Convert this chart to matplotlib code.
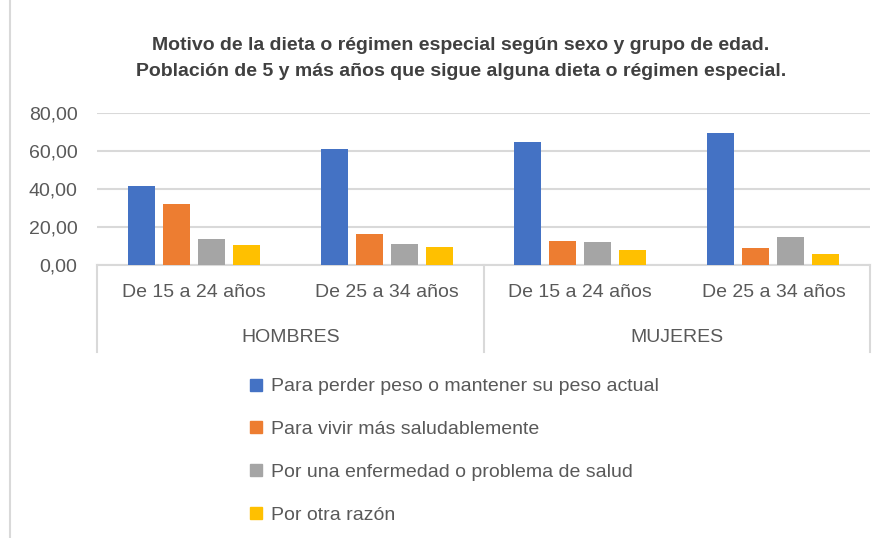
import numpy as np
import matplotlib
matplotlib.use("Agg")
import matplotlib.pyplot as plt
from matplotlib.lines import Line2D

plt.rcParams['font.family'] = ['Liberation Sans', 'DejaVu Sans']

# data
grupos = ["HOMBRES", "MUJERES"]
edades = ["De 15 a 24 años", "De 25 a 34 años", "De 15 a 24 años", "De 25 a 34 años"]
series = [
    "Para perder peso o mantener su peso actual",
    "Para vivir más saludablemente",
    "Por una enfermedad o problema de salud",
    "Por otra razón",
]
perder_peso = [41.8, 61.2, 65.0, 69.5]
saludable = [32.0, 16.4, 12.7, 8.8]
enfermedad = [13.7, 11.2, 12.0, 14.6]
otra = [10.5, 9.5, 8.1, 5.8]
colores = ["#4472C4", "#ED7D31", "#A5A5A5", "#FFC000"]

valores = [perder_peso, saludable, enfermedad, otra]
txt = "#595959"
grid = "#D9D9D9"

fig = plt.figure(figsize=(8.83, 5.38), dpi=100)
ax = fig.add_axes([97 / 883, 1 - 265 / 538, (870 - 97) / 883, (265 - 113) / 538])

x = np.arange(len(edades))
step = 0.181
width = 0.14
for i, (vals, c) in enumerate(zip(valores, colores)):
    ax.bar(x + (i - 1.5) * step, vals, width, color=c, label=series[i], zorder=3)

ax.set_xlim(-0.5, len(edades) - 0.5)
ax.set_ylim(0, 80)
ax.set_yticks(np.arange(0, 81, 20))
ax.set_yticklabels([f"{v:.2f}".replace(".", ",") for v in np.arange(0, 81, 20)])
ax.yaxis.grid(True, color=grid, linewidth=1.5, zorder=0)
ax.set_xticks(x)
ax.set_xticklabels(edades)
ax.tick_params(axis='x', length=0, pad=14, labelsize=14, labelcolor=txt)
ax.tick_params(axis='y', length=0, pad=14, labelsize=14, labelcolor=txt)
for s in ['top', 'right', 'left']:
    ax.spines[s].set_visible(False)
ax.spines['bottom'].set_color(grid)
ax.spines['bottom'].set_linewidth(1.5)

# group separators and group labels
for b in [-0.5, 1.5, 3.5]:
    ax.axvline(b, ymin=-0.57, ymax=0, color=grid, linewidth=1.5, clip_on=False)
for k, g in enumerate(grupos):
    ax.text(2 * k + 0.5, -0.48, g, transform=ax.get_xaxis_transform(),
            ha='center', va='center', fontsize=14, color=txt)

fig.text(461 / 883, 1 - 45 / 538,
         "Motivo de la dieta o régimen especial según sexo y grupo de edad.",
         ha='center', va='center', fontsize=14, fontweight='bold', color="#404040")
fig.text(461 / 883, 1 - 72 / 538,
         "Población de 5 y más años que sigue alguna dieta o régimen especial.",
         ha='center', va='center', fontsize=14, fontweight='bold', color="#404040")

handles = [Line2D([], [], marker='s', linestyle='none', markersize=8, color=c) for c in colores]
leg = fig.legend(handles, series, loc='upper left', bbox_to_anchor=(240 / 883, 1 - 370 / 538),
                 frameon=False, fontsize=14, labelspacing=1.3, handlelength=0.8,
                 handletextpad=0.4, borderaxespad=0)
for t in leg.get_texts():
    t.set_color(txt)

fig.add_artist(Line2D([10 / 883, 10 / 883], [0, 1], color=grid, linewidth=1.5))

fig.savefig("out.png", dpi=100)
